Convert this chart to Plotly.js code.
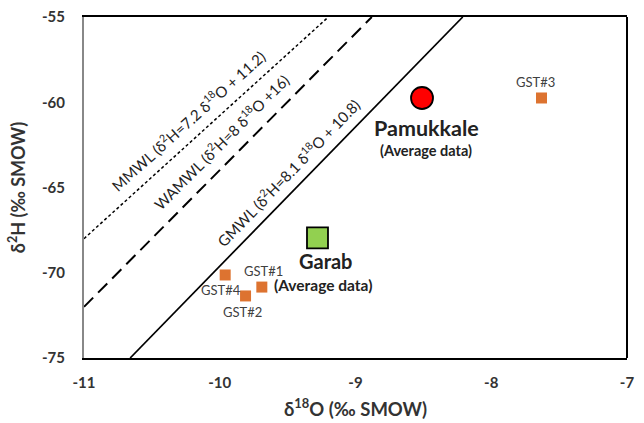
<!DOCTYPE html>
<html><head><meta charset="utf-8">
<script src="https://cdn.plot.ly/plotly-3.0.1.min.js"></script>
<style>body{margin:0;background:#fff}#chart{width:644px;height:423px}</style>
</head><body><div id="chart"></div>
<script>
// Meteoric water lines (endpoints)
const mmwlX = [-11, -9.2];
const mmwlY = [-68, -55];
const wamwlX = [-11, -8.88];
const wamwlY = [-72, -55];
const gmwlX = [-10.66, -8.21];
const gmwlY = [-75, -55];

// Samples
const gstNames = ['GST#1', 'GST#2', 'GST#3', 'GST#4'];
const gstX = [-9.69, -9.81, -7.63, -9.96];
const gstY = [-70.84, -71.36, -59.75, -70.13];

const pamX = [-8.51];
const pamY = [-59.75];
const garX = [-9.28];
const garY = [-67.96];

const xTicks = [-11, -10, -9, -8, -7];
const yTicks = [-75, -70, -65, -60, -55];

const FONT = 'Lato, "Open Sans", sans-serif';

const traces = [
  {x: mmwlX, y: mmwlY, mode: 'lines', line: {color: '#000', width: 1.5, dash: '3px,2.5px'}, hoverinfo: 'skip'},
  {x: wamwlX, y: wamwlY, mode: 'lines', line: {color: '#000', width: 2, dash: '13px,7px'}, hoverinfo: 'skip'},
  {x: gmwlX, y: gmwlY, mode: 'lines', line: {color: '#000', width: 1.7}, hoverinfo: 'skip'},
  {x: gstX, y: gstY, mode: 'markers', marker: {symbol: 'square', size: 11, color: '#DD7330', line: {width: 0}}},
  {x: pamX, y: pamY, mode: 'markers', marker: {symbol: 'circle', size: 22, color: '#FF0000', line: {color: '#000', width: 1.8}}},
  {x: garX, y: garY, mode: 'markers', marker: {symbol: 'square', size: 21, color: '#92D050', line: {color: '#000', width: 1.8}}}
];

// label offsets (pixels) for GST labels
const gstLabelShift = [[2, 16], [-3, -16], [-6, 16], [-4, -15]];
const annotations = gstNames.map((n, i) => ({
  x: gstX[i], y: gstY[i], xref: 'x', yref: 'y', text: n, showarrow: false,
  xshift: gstLabelShift[i][0], yshift: gstLabelShift[i][1],
  font: {family: FONT, size: 13, color: '#404040'}
}));

annotations.push(
  {x: pamX[0], y: pamY[0], text: '<b>Pamukkale</b>', showarrow: false, xshift: 4, yshift: -30, font: {family: FONT, size: 21.5, color: '#222'}},
  {x: pamX[0], y: pamY[0], text: '<b>(Average data)</b>', showarrow: false, xshift: 4, yshift: -53, font: {family: FONT, size: 14.5, color: '#222'}},
  {x: garX[0], y: garY[0], text: '<b>Garab</b>', showarrow: false, xshift: 8, yshift: -23, font: {family: FONT, size: 20, color: '#222'}},
  {x: garX[0], y: garY[0], text: '<b>(Average data)</b>', showarrow: false, xshift: 6, yshift: -47, font: {family: FONT, size: 15.5, color: '#222'}},
  {x: -10.206, y: -61.33, xshift: -4, yshift: 4, text: 'MMWL (δ<sup>2</sup>H=7.2 δ<sup>18</sup>O + 11.2)', showarrow: false, textangle: -42, font: {family: FONT, size: 15, color: '#222'}},
  {x: -9.963, y: -62.51, xshift: -4, yshift: 4, text: 'WAMWL (δ<sup>2</sup>H=8 δ<sup>18</sup>O +16)', showarrow: false, textangle: -45, font: {family: FONT, size: 15, color: '#222'}},
  {x: -9.47, y: -64.33, xshift: -4, yshift: 4, text: 'GMWL (δ<sup>2</sup>H=8.1 δ<sup>18</sup>O + 10.8)', showarrow: false, textangle: -46, font: {family: FONT, size: 15, color: '#222'}}
);

const layout = {
  width: 644, height: 423,
  margin: {l: 84, r: 17, t: 17, b: 65},
  paper_bgcolor: '#fff', plot_bgcolor: '#fff',
  showlegend: false,
  font: {family: FONT},
  xaxis: {
    range: [-11, -7], tickvals: xTicks, ticktext: xTicks.map(String),
    showgrid: false, zeroline: false, ticks: '',
    showline: true, linecolor: '#000', linewidth: 2, mirror: true,
    tickfont: {family: FONT, size: 15, color: '#333', weight: 'bold'},
    ticklabelstandoff: 10,
    title: {text: '<b>δ<sup>18</sup>O (‰ SMOW)</b>', font: {family: FONT, size: 18.5, color: '#333'}, standoff: 13}
  },
  yaxis: {
    range: [-75, -55], tickvals: yTicks, ticktext: yTicks.map(String),
    showgrid: false, zeroline: false, ticks: '',
    showline: true, linecolor: '#888', linewidth: 2,
    tickfont: {family: FONT, size: 15, color: '#333', weight: 'bold'},
    ticklabelstandoff: 14,
    title: {text: '<b>δ<sup>2</sup>H (‰ SMOW)</b>', font: {family: FONT, size: 18, color: '#333'}, standoff: 12}
  },
  shapes: [
    {type: 'line', xref: 'paper', yref: 'paper', x0: 1, x1: 1, y0: 0, y1: 1, line: {color: '#000', width: 2}}
  ],
  annotations: annotations
};

Plotly.newPlot('chart', traces, layout, {displayModeBar: false, staticPlot: true});
</script>
</body></html>
